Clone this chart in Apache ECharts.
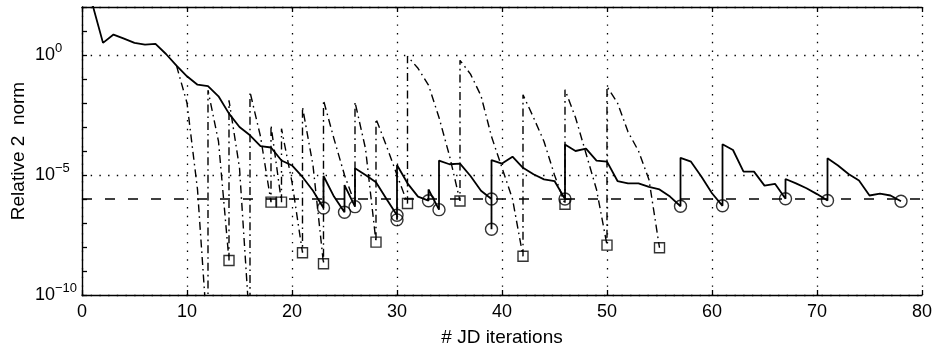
<!DOCTYPE html>
<html><head><meta charset="utf-8">
<script src="https://cdn.jsdelivr.net/npm/echarts@6/dist/echarts.min.js"></script>
<style>html,body{margin:0;padding:0;background:#fff}#c{width:933px;height:346px}</style>
</head><body><div id="c"></div>
<script>
// Solid curve: residual history (repeated iteration = jump after convergence)
const solidIter = [1,2,3,4,5,6,7,8,9,10,11,12,13,14,15,16,17,18,19,20,21,22,23,23,24,25,25,26,26,27,28,29,30,30,30,31,32,33,33,34,34,35,36,37,38,39,39,39,40,41,42,43,44,45,46,46,47,48,49,50,51,52,53,54,55,56,57,57,58,59,60,61,61,62,63,64,65,66,67,67,68,69,70,71,71,72,73,74,75,76,77,78];
const solidNorm = [1.26e2,3.2,7.1,4.8,3.2,2.7,2.9,1.1,0.36,0.13,5.8e-2,5.1e-2,1.9e-2,3.6e-3,1.0e-3,4.5e-4,1.6e-4,1.4e-4,4.0e-5,2.5e-5,8.3e-6,2.2e-6,4.2e-7,9.1e-6,1.26e-6,2.8e-7,3.8e-6,4.8e-7,1.9e-5,1.0e-5,5.0e-6,1.0e-6,2.1e-7,1.35e-7,2.6e-5,4.5e-6,1.26e-6,8.5e-7,2.5e-6,3.6e-7,4.0e-5,2.8e-5,3.0e-5,9.1e-6,2.2e-6,1.0e-6,5.5e-8,4.2e-5,3.0e-5,5.8e-5,2.0e-5,1.07e-5,6.6e-6,5.6e-6,1.0e-6,1.86e-4,1.0e-4,1.26e-4,4.0e-5,3.6e-5,5.6e-6,4.5e-6,4.5e-6,3.2e-6,2.5e-6,1.26e-6,5.0e-7,5.2e-5,3.6e-5,8.5e-6,1.74e-6,5.2e-7,1.9e-4,1.1e-4,1.38e-5,1.38e-5,3.6e-6,4.3e-6,1.02e-6,6.8e-6,4.5e-6,2.8e-6,1.6e-6,8.7e-7,5.0e-5,2.5e-5,1.1e-5,5.9e-6,1.4e-6,1.66e-6,1.4e-6,8.1e-7];
// Circles: converged (solid curve)
const circleIter = [23,25,26,30,30,33,34,39,39,46,57,61,67,71,78];
const circleNorm = [4.2e-7,2.8e-7,4.8e-7,2.1e-7,1.35e-7,8.5e-7,3.6e-7,1.0e-6,5.5e-8,1.0e-6,5.0e-7,5.2e-7,1.02e-6,8.7e-7,8.1e-7];
// Dash-dot curve
const dashIter = [9,10,11,12,12,13,14,14,15,16,16,17,18,18,19,19,20,21,21,22,23,23,24,25,26,26,27,28,28,29,30,31,31,32,33,34,35,36,36,37,38,39,40,41,42,42,43,44,45,46,46,47,48,49,50,50,51,52,53,54,55];
const dashNorm = [0.36,1.0e-2,2.5e-6,1e-12,3.4e-2,2.5e-4,2.75e-9,1.3e-2,2.0e-5,3.2e-12,2.9e-2,4.0e-4,7.4e-7,1.17e-3,7.4e-7,8.5e-4,5.0e-6,5.75e-9,6.8e-3,2.5e-5,2.0e-9,1.3e-2,3.2e-4,1.0e-5,6.3e-7,1.1e-2,1.26e-4,1.6e-8,2.2e-3,1.6e-4,1.0e-5,6.5e-7,0.89,0.28,5.6e-2,2.5e-3,6.3e-5,8.3e-7,0.6,0.16,2.0e-2,4.0e-4,2.0e-5,1.0e-6,4.1e-9,2.2e-2,2.5e-3,2.5e-4,1.0e-5,6.0e-7,3.6e-2,2.5e-3,7.9e-5,2.5e-6,1.2e-8,4.8e-2,1.0e-2,6.3e-4,1.0e-4,6.3e-6,9.3e-9];
// Squares: converged (dash-dot curve)
const squareIter = [14,18,19,21,23,28,31,36,42,46,50,55];
const squareNorm = [2.75e-9,7.4e-7,7.4e-7,5.75e-9,2.0e-9,1.6e-8,6.5e-7,8.3e-7,4.1e-9,6.0e-7,1.2e-8,9.3e-9];
// Tolerance line
const tolIter = [0, 80];
const tolNorm = [1e-6, 1e-6];
// Axis labels
const xName = '# JD iterations';
const yName = 'Relative 2  norm';
const yLabelExponents = [0, -5, -10];

const FONT = '"Liberation Sans", Arial, Helvetica, sans-serif';
const K = '#000';
const zip = (a, b) => a.map((v, i) => [v, b[i]]);
const dotted = {color: K, type: [1.4, 7.3], width: 1.3};

const chart = echarts.init(document.getElementById('c'), null, {renderer: 'canvas'});
chart.setOption({
  animation: false,
  backgroundColor: '#fff',
  grid: {left: 82, right: 11, top: 7, bottom: 51, outerBoundsMode: 'none', containLabel: false},
  xAxis: [{
    type: 'value', position: 'bottom', min: 0, max: 80, interval: 10,
    axisLine: {show: true, onZero: false, lineStyle: {color: K, width: 1.4}},
    axisTick: {show: true, inside: true, length: 5, lineStyle: {color: K, width: 1.3}},
    axisLabel: {color: K, fontSize: 18, fontFamily: FONT, margin: 8},
    splitLine: {show: true, lineStyle: dotted},
    name: xName, nameLocation: 'middle', nameGap: 33,
    nameTextStyle: {color: K, fontSize: 19, fontFamily: FONT}
  }, {
    type: 'value', position: 'top', min: 0, max: 80, interval: 10,
    axisLine: {show: true, onZero: false, lineStyle: {color: K, width: 1.4}},
    axisTick: {show: true, inside: true, length: 5, lineStyle: {color: K, width: 1.3}},
    axisLabel: {show: false}, splitLine: {show: false}
  }],
  yAxis: [{
    type: 'log', logBase: 10, min: 1e-10, max: 1e2, interval: 1, position: 'left',
    axisLine: {show: true, onZero: false, lineStyle: {color: K, width: 1.4}},
    axisTick: {show: true, inside: true, length: 5, lineStyle: {color: K, width: 1.3}},
    axisLabel: {
      color: K, fontFamily: FONT, align: 'left', margin: 47,
      formatter: function (v) {
        const e = Math.round(Math.log10(v));
        if (yLabelExponents.indexOf(e) < 0) return '';
        return '{b|10}{s|' + (e < 0 ? '\u2212' + (-e) : e) + '}';
      },
      rich: {
        b: {fontSize: 18, fontFamily: FONT, color: K, lineHeight: 27, verticalAlign: 'middle'},
        s: {fontSize: 13, fontFamily: FONT, color: K, lineHeight: 13, verticalAlign: 'top'}
      }
    },
    splitLine: {show: false},
    name: yName, nameLocation: 'middle', nameGap: 54, nameMoveOverlap: false,
    nameTextStyle: {color: K, fontSize: 19, fontFamily: FONT}
  }, {
    type: 'log', logBase: 10, min: 1e-10, max: 1e2, interval: 5, position: 'left',
    axisLine: {show: false}, axisTick: {show: false}, axisLabel: {show: false},
    splitLine: {show: true, lineStyle: dotted}
  }],
  series: [{
    type: 'line', data: zip(tolIter, tolNorm), symbol: 'none', silent: true,
    lineStyle: {color: K, width: 1.4, type: [10, 13]}, z: 3
  }, {
    type: 'line', data: zip(dashIter, dashNorm), symbol: 'none',
    lineStyle: {color: K, width: 1.4, type: [8, 4, 1.6, 4]}, z: 4
  }, {
    type: 'line', data: zip(solidIter, solidNorm), symbol: 'none',
    lineStyle: {color: K, width: 1.8}, z: 5
  }, {
    type: 'scatter', data: zip(circleIter, circleNorm), symbol: 'circle', symbolSize: 12,
    itemStyle: {color: 'transparent', borderColor: K, borderWidth: 1.4}, z: 6
  }, {
    type: 'scatter', data: zip(squareIter, squareNorm), symbol: 'rect', symbolSize: 10,
    itemStyle: {color: 'transparent', borderColor: K, borderWidth: 1.4}, z: 6
  }]
});
</script>
</body></html>
